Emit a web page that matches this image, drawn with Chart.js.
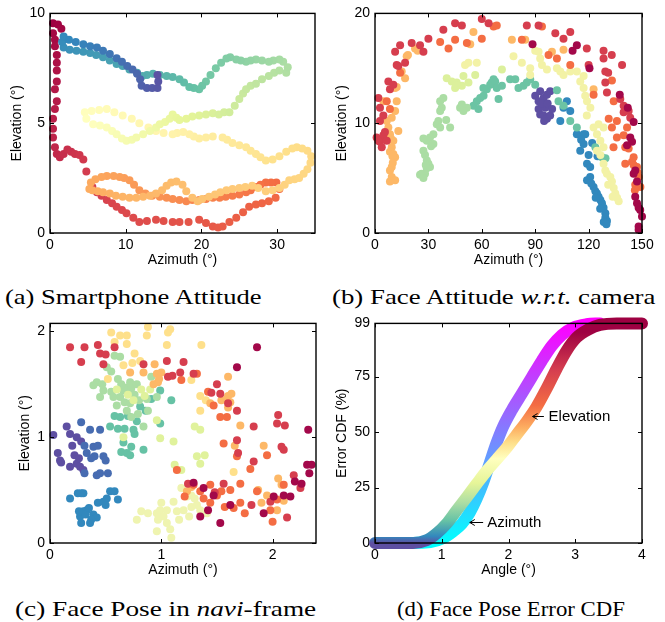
<!DOCTYPE html>
<html>
<head>
<meta charset="utf-8">
<script src="https://cdn.jsdelivr.net/npm/chart.js@4"></script>
<style>
body { margin: 0; background: #fff; width: 665px; height: 622px; position: relative; overflow: hidden; }
.pane { position: absolute; }
.cap { position: absolute; font-family: 'Liberation Serif', 'Times New Roman', serif; font-size: 22px; line-height: 24px; white-space: nowrap; transform-origin: 0 50%; color: #000; }
</style>
</head>
<body>
<div class="pane" style="left:0;top:0"><canvas id="chartA" width="330" height="270"></canvas></div>
<div class="pane" style="left:330px;top:0"><canvas id="chartB" width="335" height="270"></canvas></div>
<div class="pane" style="left:0;top:310px"><canvas id="chartC" width="330" height="270"></canvas></div>
<div class="pane" style="left:330px;top:310px"><canvas id="chartD" width="335" height="270"></canvas></div>

<div class="cap" data-w="257" style="left:5px;top:285px">(a) Smartphone Attitude</div>
<div class="cap" data-w="323" style="left:332px;top:285px">(b) Face Attitude <i>w.r.t.</i> camera</div>
<div class="cap" data-w="301" style="left:15px;top:597px">(c) Face Pose in <i>navi</i>-frame</div>
<div class="cap" data-w="228" style="left:397px;top:597px">(d) Face Pose Error CDF</div>

<script>
// ---------- (a) smartphone attitude: one track, split by colour band ----------
const trackDarkRed = [[0.4,9.55],[1.05,9.5],[1.5,9.3],[0.4,9.1],[0.65,8.8],[0.65,8.5],[0.9,8.1],[0.9,7.75],[0.9,7.4],[0.9,6.9],[0.65,6.55],[0.9,6.0],[0.65,5.65],[0.4,5.2],[0.4,4.75],[0.4,4.35],[0.65,3.9],[0.9,3.6],[1.3,3.45],[1.8,3.6],[2.3,3.8],[2.8,3.7],[3.3,3.6],[3.9,3.55],[4.4,3.35],[4.8,2.8]];
const trackRed = [[5.6,2.1],[6.2,1.85],[6.8,1.7],[7.5,1.5],[8.2,1.35],[8.8,1.2],[9.5,1.05],[10.1,0.9],[11,0.7],[11.8,0.5],[12.8,0.55],[14,0.6],[15,0.55],[16.2,0.5],[17.1,0.5],[18.3,0.5],[19.7,0.6],[20.6,0.45],[21.5,0.3],[22.2,0.25],[22.8,0.3],[23.7,0.5],[24.6,0.7],[25.5,0.95],[26.3,1.2],[27.2,1.3],[28,1.35],[28.9,1.45],[29.8,1.6],[30.3,2.0],[29.9,2.3]];
const trackOrange = [[29.2,2.3],[28.5,2.3],[27.8,2.2],[27.2,2.1],[26.5,1.95],[25.9,1.85],[25,1.75],[24.1,1.7],[23.2,1.65],[22.4,1.6],[21.5,1.6],[20.6,1.55],[19.7,1.5],[18.8,1.5],[18,1.45],[17.1,1.5],[16.2,1.55],[15.4,1.6],[14.5,1.65],[13.5,1.7],[12.6,1.8],[11.8,1.95],[11.1,2.2],[10.5,2.4],[9.8,2.5],[9.2,2.55],[8.4,2.6],[7.5,2.6],[6.8,2.55],[6,2.45],[5.4,2.3],[5.2,2.0]];
const trackLightOrange = [[5.6,1.95],[6.3,1.9],[7,1.85],[7.9,1.8],[8.7,1.7],[9.6,1.65],[10.5,1.6],[11.4,1.6],[12.3,1.65],[13.2,1.7],[14,1.8],[14.8,1.95],[15.4,2.15],[16,2.3],[16.7,2.35],[17.5,2.2],[18,1.9],[18.8,1.6],[19.5,1.45],[20.1,1.55],[21,1.65],[21.8,1.75],[22.5,1.85],[23.3,1.95],[24.1,2.0],[25,2.05],[25.8,2.1],[26.7,2.15],[27.5,2.05],[28.5,1.9],[29.4,1.95],[30.3,2.05],[31,2.2],[31.6,2.4],[32.3,2.45],[32.9,2.5],[33.5,2.7],[34,2.9],[34.4,3.2],[34.5,3.5],[34,3.75],[33.3,3.85],[32.6,3.9],[32,3.85]];
const trackYellow = [[31.2,3.7],[30.3,3.5],[29.4,3.35],[28.5,3.3],[27.8,3.45],[27.2,3.6],[26.5,3.75],[25.9,3.9],[25,4.0],[24.1,4.1],[23.4,4.25],[22.8,4.35],[21.5,4.4],[20.6,4.35],[19.7,4.3],[19,4.4],[18.4,4.5],[17.6,4.6],[16.8,4.55],[16.2,4.5],[15,4.55],[14,4.65],[13,4.8],[11.8,5.0],[10.8,5.2],[9.6,5.35],[8.5,5.5],[7.5,5.65],[6.5,5.6],[5.5,5.55],[4.6,5.5]];
const trackPale = [[4.8,5.2],[5.7,4.95],[6.6,4.9],[7.5,4.8],[8.2,4.65],[8.8,4.5],[9.5,4.3],[10.1,4.2],[10.8,4.25],[11.4,4.35],[12.3,4.5],[13.2,4.65],[14,4.8],[14.5,4.95],[15.2,5.05],[15.8,5.2],[16.2,5.4],[16.7,5.25],[17.1,5.15]];
const trackLightGreen = [[18,5.2],[18.8,5.3],[19.7,5.35],[20.6,5.4],[21.5,5.45],[22.3,5.4],[23,5.5],[23.7,5.5],[24.4,5.8],[25,6.1],[25.5,6.35],[25.9,6.55],[26.5,6.7],[27.2,6.8],[28,7.0],[28.9,7.15],[29.6,7.3],[30.3,7.4],[31.2,7.3],[31.4,7.55]];
const trackGreen = [[30.8,7.8],[30.3,7.9],[29.5,7.85],[28.9,7.8],[28,7.85],[27.2,7.9],[26.5,7.85],[25.9,7.8],[25.2,7.85],[24.6,7.9],[23.8,8.0],[23.3,7.95],[22.6,7.75],[21.9,7.5],[21.2,7.2],[20.6,6.9],[20.1,6.7],[19.7,6.55]];
const trackTeal = [[19,6.6],[18.4,6.65],[17.7,6.85],[17.1,7.0],[16.2,7.1],[15.4,7.15],[14.5,7.2],[13.6,7.25],[12.8,7.2],[12.2,7.15],[11.5,7.3],[10.5,7.45],[9.6,7.6],[8.8,7.7],[7.9,7.85],[7,8.0],[6.1,8.1],[5.3,8.2],[4.4,8.25],[3.5,8.3],[2.6,8.35],[1.8,8.45],[1.6,8.7],[1.8,8.95]];
const trackBlue = [[2.5,8.8],[3.4,8.7],[4.4,8.6],[5.3,8.5],[6.2,8.45],[7,8.3],[7.9,8.15],[8.8,7.96],[9.5,7.8],[10.2,7.6],[10.9,7.45],[11.5,7.25],[11.9,7.0],[12.1,6.7],[12.8,6.6],[13.5,6.6],[14.2,6.6],[14.3,6.9],[14.2,7.2]];

// ---------- (b) face attitude w.r.t. camera ----------
const faceDarkRed = [[145.3,10.1],[143.4,8.7],[144.4,8.3],[141.6,8.0],[146.2,5.7],[145.3,5.4],[147.2,4.7],[146.2,3.3],[147.2,2.7],[148.1,2.3],[149,2.1],[150,1.5],[148.1,0.6],[148.1,0.3],[88.5,17.2],[111,16.6],[113.4,17.1],[120.5,15.0],[137.5,12.6],[142,11.4]];
const faceRed = [[1.9,12.3],[2.8,11.4],[4.7,10.7],[2.8,10.2],[0.9,8.7],[2.8,8.3],[4.7,8.9],[6.6,8.4],[3.8,7.8],[1.9,8.4],[5.6,9.2],[7.5,13.8],[8.4,13.1],[10.3,13.5],[11.3,16.5],[12.2,15.3],[13.1,15.2],[14.1,17.1],[16.9,15.5],[20.6,17.3],[27.2,16.5],[25.3,17.1],[30,17.7],[38.4,18.5],[45,19.1],[48.8,18.9],[60,19.5],[63.8,19.1],[85.3,18.9],[91.9,18.9],[101.3,18.2],[109.7,18.3],[105.9,17.7],[119,16.8],[128.4,16.6],[133,16.2],[128.4,15.9],[129.4,14.7],[131,14.6],[129.4,13.7],[130.3,12.8],[138.8,15.3],[137.8,12.2],[139.7,11.6],[139.7,11.0],[143.4,10.5],[142.5,11.1],[120,15.3]];
const faceOrange = [[133.1,13.9],[134.1,12.0],[131.3,10.4],[133.1,9.6],[134,7.8],[135.9,8.7],[135.9,10.2],[141.6,9.6],[139.7,8.9],[142.5,7.7],[140.6,7.8],[140.6,6.3],[144.4,6.5],[145.3,6.2],[147.2,6.0],[148.1,5.1],[147.2,4.5],[146.2,4.4],[149.1,4.2],[145.3,6.9],[122.8,12.6],[36.6,17.4],[41.3,16.8],[45,17.6],[51.6,17.3],[60,17.7],[66.6,18.8],[68.4,18.9],[82.5,17.6],[93.8,18.8],[97.5,16.2],[102.2,15.9],[109.7,15.3],[6.6,12.0],[8.4,11.3],[14.1,14.6],[147.5,5.5],[146,3.9]];
const faceLightOrange = [[12.2,13.3],[11.3,13.2],[12.2,12.0],[11.3,11.1],[9.4,10.5],[7.5,9.6],[8.4,9.0],[10.3,8.4],[9.4,7.8],[8.4,7.4],[10.3,7.2],[11.3,6.9],[9.4,6.0],[8.4,5.7],[9.4,5.1],[8.4,4.7],[11.3,4.8],[4.7,12.0],[4.7,10.5],[13.1,9.3],[16.9,14.1],[17.8,16.1],[22.5,16.8],[55.3,18.3],[76.9,17.6],[84.4,17.6],[99.4,16.5],[105.9,16.7],[122.8,13.1],[6.6,10.2],[9.8,7.0],[10,6.4],[9,8.6],[15,14.7],[18.5,16.2],[24,16.6],[53.5,17.2]];
const facePale = [[77.8,16.1],[82.5,15.5],[87.2,15.0],[90,16.6],[91.9,16.5],[92.8,15.9],[50.6,15.3],[52.5,15.5],[57.2,15.5],[87.2,14.4],[93.8,15.3],[96.6,14.9],[102.2,15.0],[104.1,14.7],[105.9,14.4],[109.7,14.7],[113.4,14.7],[117.2,14.3],[115.3,13.8],[117.2,13.2],[118.1,12.5],[119.1,12.0],[121,11.4],[119,10.7],[122.8,9.6],[124.7,9.0],[126.6,8.4],[128.4,7.8],[124.7,7.5],[126.6,7.1],[128.4,6.3],[129.4,5.7],[130.3,5.4],[132.2,5.1],[133.1,4.7],[134.1,4.1],[135,3.6],[136,3.2],[136.9,2.9],[125.6,9.9],[128.4,9.6],[133.5,3.3],[131,4.4]];
const faceLightGreen = [[40.3,14.1],[43.1,13.8],[45.9,13.7],[48.8,13.4],[52.5,13.7],[56.3,14.4],[49.7,14.3],[45,13.2],[71.3,14.9],[45.9,13.4]];
const faceGreen = [[36.6,12.0],[38.4,12.3],[37.5,11.4],[36.6,11.1],[35.6,10.2],[34.7,9.9],[36.6,9.6],[32.8,9.0],[30.9,8.7],[29.1,8.4],[27.2,8.6],[27.2,7.5],[28.1,7.1],[29.1,6.6],[30,6.3],[30.9,6.0],[29.1,5.9],[28.1,5.4],[26.2,5.4],[25.3,5.3],[27.2,5.0],[32.8,8.1],[42.2,9.6],[47.8,11.4],[48.8,11.7],[51.6,11.4],[49.7,11.1],[28.5,6.2],[31.5,7.9],[40,10.3]];
const faceTeal = [[55.3,11.6],[57.2,12.0],[59.1,12.3],[61,12.5],[58.1,11.3],[62.8,13.1],[64.7,13.5],[65.6,13.7],[67.5,13.8],[68.4,13.2],[71.3,13.4],[69.4,12.2],[66.6,14.0],[60.9,13.2],[75.9,14.0],[78.8,14.0],[80.6,13.2],[83.4,13.4],[85.3,13.7],[87.2,14.0],[90,13.5],[103.1,12.0],[105.9,11.6],[102.2,13.0],[109.7,10.2],[113.4,9.6],[123.8,7.8],[127.5,6.9],[129.5,6.8]];
const faceBlue = [[113.4,9.0],[117.2,9.0],[118.1,9.0],[117.2,8.1],[120,7.1],[119.1,6.3],[120.9,6.0],[120.9,5.1],[119.1,4.8],[122.8,4.2],[123.8,3.8],[124.7,3.6],[125.6,3.3],[126.6,3.0],[127.5,2.7],[128.4,2.3],[129.4,1.8],[129.4,1.4],[130.3,1.1],[115.3,7.5],[121.5,4.5],[124,3.2],[126.5,2.2],[128.5,1.0],[130,0.8],[122,8.2],[125,7.0],[115.8,8.5],[105.9,11.4],[107.8,12.0],[109.7,11.1],[104.1,10.2]];
const facePurple = [[90,12.5],[91.9,12.0],[92.8,12.9],[94.7,12.3],[96.6,12.6],[98.4,12.9],[91.9,11.3],[92.8,10.8],[94.7,10.7],[96.6,10.4],[95.6,11.4],[98.4,10.7],[93.5,11.8],[97,11.8],[95,10.2],[99.5,11.3]];

// ---------- (c) face pose in navi-frame ----------
const poseDarkRed = [[1.86,1.85],[1.68,1.66],[1.35,0.25],[1.42,0.31],[1.38,0.52],[1.53,0.19],[1.62,0.36],[2.01,0.44],[2.1,0.45],[2.16,0.44],[2.2,0.58],[2.26,0.56],[2.31,0.74],[2.35,0.74],[2.33,0.66],[2.32,1.07],[1.29,0.57],[1.47,0.45],[1.92,0.28]];
const poseRed = [[0.18,1.85],[0.31,1.85],[0.28,1.71],[0.43,1.87],[0.45,1.79],[0.48,1.69],[0.58,1.85],[0.84,1.69],[1.05,1.72],[1.06,1.57],[1.17,1.61],[1.2,1.71],[1.29,1.6],[1.5,1.5],[1.53,1.41],[1.6,1.32],[1.68,1.25],[1.68,0.97],[1.69,0.85],[1.83,0.77],[1.83,1.1],[2.04,1.13],[2.05,1.21],[2.11,1.11],[2.08,0.91],[2.19,0.64],[2.25,0.52],[1.24,0.56],[1.56,0.56],[1.81,0.36],[1.98,0.39],[2.13,0.24],[0.5,1.78],[1.1,1.58],[1.45,1.42],[2.1,0.88],[1.48,0.48]];
const poseOrange = [[1.18,1.54],[1.32,1.6],[1.42,1.43],[1.53,1.19],[1.59,1.19],[1.56,0.94],[1.68,0.82],[1.71,0.56],[1.71,0.38],[1.75,0.28],[1.86,0.49],[1.98,0.31],[2.04,0.41],[1.95,0.83],[2.1,0.55],[1.21,0.44],[1.29,0.55],[1.35,0.49],[1.44,0.55],[1.5,0.45],[1.54,0.49],[1.44,0.38],[1.57,0.34],[1.65,0.33],[1.14,0.69],[1.47,1.3],[1.8,0.7],[1.62,0.5],[1.38,0.42],[2.0,0.2]];
const poseLightOrange = [[0.84,1.61],[0.94,1.69],[0.96,1.6],[0.97,1.52],[1.0,1.61],[0.93,1.5],[0.72,1.61],[1.44,1.32],[1.54,1.35],[1.59,1.36],[1.6,1.39],[1.62,1.33],[1.63,1.41],[1.6,1.57],[1.71,1.11],[1.66,0.92],[1.92,0.92],[1.87,0.5],[2.05,0.61],[2.04,0.31],[1.23,0.49],[1.27,0.53],[2.08,0.55],[1.95,0.45],[1.6,1.28],[0.98,1.55],[1.9,0.38],[2.1,0.4]];
const poseYellow = [[0.55,1.99],[0.63,1.96],[0.69,1.96],[0.58,1.9],[0.69,1.88],[0.76,1.79],[0.87,1.96],[0.88,2.04],[1.08,2.02],[1.06,1.99],[0.81,1.72],[0.66,1.68],[1.05,1.87],[1.36,1.87],[1.27,1.54],[1.35,1.39],[1.35,1.25],[1.65,0.67],[0.74,1.7],[1.4,1.35],[0.52,1.55]];
const posePale = [[0.78,0.22],[0.82,0.3],[0.96,0.28],[0.97,0.22],[0.99,0.31],[1.05,0.31],[1.08,0.13],[1.05,0.19],[1.09,0.05],[0.96,0.11],[1.11,0.39],[1.18,0.52],[1.2,0.31],[1.23,0.44],[1.27,0.34],[1.32,0.36],[1.35,0.31],[1.27,0.45],[1.41,0.28],[0.88,0.28],[1.02,0.25],[1.14,0.3],[1.3,0.42],[1.0,0.38],[1.25,0.25],[1.16,0.22]];
const poseLightGreen = [[0.75,1.35],[0.85,1.39],[0.96,1.16],[0.99,0.99],[1.11,0.96],[1.12,0.74],[1.18,0.69],[1.32,0.82],[1.35,0.75],[1.39,0.83],[1.3,1.1],[1.35,1.07],[0.66,1.0],[0.6,1.45],[0.7,1.4],[0.82,1.45],[0.9,1.45]];
const poseGreen = [[0.42,1.52],[0.39,1.49],[0.48,1.44],[0.45,1.38],[0.55,1.43],[0.57,1.38],[0.58,1.77],[0.63,1.76],[0.51,1.66],[0.61,1.55],[0.66,1.44],[0.69,1.47],[0.72,1.52],[0.73,1.46],[0.78,1.5],[0.63,1.38],[0.67,1.33],[0.72,1.32],[0.69,1.25],[0.73,1.19],[0.79,1.22],[0.84,1.1],[0.88,1.25],[0.96,1.38],[0.87,1.36],[0.91,1.57],[0.47,1.5],[0.6,1.3],[0.76,1.4],[0.55,1.62],[0.64,1.5],[0.8,1.35]];
const poseTeal = [[0.54,1.1],[0.61,1.08],[0.63,1.19],[0.67,1.08],[0.64,0.86],[0.69,0.85],[0.72,0.83],[0.73,0.91],[0.75,1.07],[0.76,1.03],[0.81,1.29],[0.84,0.88],[0.99,1.13],[1.09,1.35],[0.99,1.44],[0.91,1.36],[0.7,1.2],[0.78,1.15],[0.66,0.95],[0.58,1.2],[0.86,1.25]];
const poseBlue = [[0.18,0.42],[0.25,0.47],[0.3,0.47],[0.27,0.25],[0.3,0.3],[0.33,0.31],[0.39,0.27],[0.42,0.24],[0.37,0.22],[0.28,0.19],[0.36,0.19],[0.43,0.38],[0.48,0.39],[0.51,0.42],[0.54,0.49],[0.58,0.49],[0.61,0.41],[0.32,0.27],[0.35,0.33],[0.26,0.3],[0.28,0.47],[0.5,0.36]];
const poseIndigo = [[0.31,0.92],[0.36,1.07],[0.28,1.14],[0.31,0.66],[0.39,0.91],[0.4,0.82],[0.45,1.07],[0.48,0.82],[0.42,0.64],[0.45,0.66],[0.52,0.66],[0.33,0.85],[0.37,0.8],[0.43,0.92],[0.5,0.78]];
const posePurple = [[0.03,1.02],[0.07,0.85],[0.09,0.78],[0.15,1.1],[0.18,1.03],[0.2,0.92],[0.22,0.83],[0.18,0.72],[0.24,0.75],[0.27,0.72],[0.3,0.69],[0.28,0.96],[0.24,1.0],[0.1,0.76],[0.26,0.8]];

// ---------- (d) error CDF ----------
const elevAngle = [0, 0.57, 0.77, 0.92, 1.07, 1.22, 1.37, 1.52, 1.67, 1.82, 1.97, 2.12, 2.27, 2.42, 2.57, 2.72, 2.87, 3.02, 3.2, 3.37, 3.62, 4];
const elevCdf = [0, 0, 1.2, 4.2, 8.6, 14.6, 20.5, 26.5, 32.4, 37.6, 42.8, 48.8, 54.7, 61.4, 69.6, 78.5, 86.7, 92.6, 96.3, 98.3, 99, 99];
const azimAngle = [0.57, 0.83, 1.02, 1.17, 1.3, 1.42, 1.52, 1.62, 1.72, 1.82, 1.92, 2.05, 2.2, 2.35, 2.5, 2.65, 2.8, 2.97, 3.17, 3.37];
const azimCdf = [0, 0.4, 2.2, 5.2, 8.6, 13.8, 19.8, 27.2, 36.1, 45, 52.5, 59.9, 67.3, 74.8, 82.2, 88.9, 93.8, 97.1, 98.6, 99];

// tick labels
const ticksAX = [0, 10, 20, 30], ticksAY = [0, 5, 10];
const ticksBX = [0, 30, 60, 90, 120, 150], ticksBY = [0, 10, 20];
const ticksCX = [0, 1, 2], ticksCY = [0, 1, 2];
const ticksDX = [0, 1, 2, 3, 4], ticksDY = [0, 25, 50, 75, 99];

// ---------- colours ----------
const SPECTRAL = ['#9e0142','#d53e4f','#f46d43','#fdae61','#fee08b','#ffffbf','#e6f598','#abdda4','#66c2a5','#3288bd','#5e4fa2'];
function rgbOf(h) { return [1, 3, 5].map(i => parseInt(h.slice(i, i + 2), 16)); }
function spectral(t) {
  const p = Math.max(0, Math.min(1, t)) * 10;
  const i = Math.min(9, Math.floor(p)), f = p - i;
  const a = rgbOf(SPECTRAL[i]), b = rgbOf(SPECTRAL[i + 1]);
  return 'rgb(' + a.map((v, k) => Math.round(v + (b[k] - v) * f)).join(',') + ')';
}

const SANS = "'Liberation Sans', Arial, Helvetica, sans-serif";
const tickFont = { family: SANS, size: 14 };

// MATLAB style box with inward ticks on all four sides
const frame = {
  id: 'frame',
  afterDraw(chart) {
    const { ctx, chartArea: a, scales: { x, y } } = chart;
    ctx.save();
    ctx.strokeStyle = '#000';
    ctx.lineWidth = 1.4;
    ctx.strokeRect(a.left, a.top, a.right - a.left, a.bottom - a.top);
    ctx.lineWidth = 1;
    ctx.beginPath();
    x.ticks.forEach(t => {
      const px = Math.round(x.getPixelForValue(t.value)) + 0.5;
      ctx.moveTo(px, a.bottom); ctx.lineTo(px, a.bottom - 4);
      ctx.moveTo(px, a.top); ctx.lineTo(px, a.top + 4);
    });
    y.ticks.forEach(t => {
      const py = Math.round(y.getPixelForValue(t.value)) + 0.5;
      ctx.moveTo(a.left, py); ctx.lineTo(a.left + 4, py);
      ctx.moveTo(a.right, py); ctx.lineTo(a.right - 4, py);
    });
    ctx.stroke();
    ctx.restore();
  }
};

// arrows with text for panel (d)
const pointers = {
  id: 'pointers',
  afterDatasetsDraw(chart, args, opts) {
    if (!opts.items) return;
    const { ctx, scales: { x, y } } = chart;
    ctx.save();
    ctx.strokeStyle = '#000';
    ctx.fillStyle = '#000';
    ctx.lineWidth = 1;
    ctx.font = '15px ' + SANS;
    ctx.textBaseline = 'middle';
    opts.items.forEach(n => {
      const py = Math.round(y.getPixelForValue(n.y)) + 0.5;
      const tip = x.getPixelForValue(n.tip), tail = x.getPixelForValue(n.tail);
      ctx.beginPath();
      ctx.moveTo(tail, py); ctx.lineTo(tip, py);
      ctx.moveTo(tip + 5, py - 3); ctx.lineTo(tip, py); ctx.lineTo(tip + 5, py + 3);
      ctx.stroke();
      ctx.fillText(n.label, x.getPixelForValue(n.text), py);
    });
    ctx.restore();
  }
};

function axis(tickList, max, title, fit, titlePad, horizontal) {
  return {
    type: 'linear', min: 0, max: max,
    grid: { display: false, drawTicks: false },
    border: { display: false },
    afterBuildTicks: s => { s.ticks = tickList.map(v => ({ value: v })); },
    afterFit: s => { if (horizontal) s.height = fit; else s.width = fit; },
    ticks: { font: tickFont, color: '#000', padding: horizontal ? 4 : 5, maxRotation: 0, autoSkip: false },
    title: { display: true, text: title, font: tickFont, color: '#000',
             padding: horizontal ? { top: 0, bottom: 1 } : { top: titlePad, bottom: 0 } }
  };
}

function options(p) {
  return {
    responsive: false,
    animation: false,
    events: [],
    layout: { padding: { top: p.top, right: p.right, left: 0, bottom: 0 } },
    plugins: { legend: { display: false }, tooltip: { enabled: false }, pointers: { items: p.notes } },
    scales: {
      x: axis(p.xTicks, p.xMax, p.xTitle, 37, 0, true),
      y: axis(p.yTicks, p.yMax, p.yTitle, p.yWidth, p.yPad, false)
    }
  };
}

function dots(arr, color) {
  return {
    data: arr.map(([x, y]) => ({ x, y })),
    backgroundColor: color, pointRadius: 4, pointHoverRadius: 4,
    pointBorderWidth: 0, borderWidth: 0, clip: false
  };
}

// (a)
const bands = [trackDarkRed, trackRed, trackOrange, trackLightOrange, trackYellow, trackPale, trackLightGreen, trackGreen, trackTeal, trackBlue];
const trackPts = [], trackCols = [];
bands.forEach((seg, k) => seg.forEach(([x, y], j) => {
  trackPts.push({ x, y });
  trackCols.push(spectral((k + j / seg.length) / 10));
}));

new Chart(document.getElementById('chartA'), {
  type: 'scatter',
  data: { datasets: [{ data: trackPts, backgroundColor: trackCols, pointRadius: 4, pointHoverRadius: 4, pointBorderWidth: 0, clip: false }] },
  options: options({ top: 12, right: 15, yWidth: 50, yPad: 8.6, xTicks: ticksAX, xMax: 35, yTicks: ticksAY, yMax: 10, xTitle: 'Azimuth (°)', yTitle: 'Elevation (°)' }),
  plugins: [frame]
});

// (b)
new Chart(document.getElementById('chartB'), {
  type: 'scatter',
  data: { datasets: [
    dots(faceDarkRed, '#a3084a'), dots(faceRed, '#d63e4e'), dots(faceOrange, '#f46d43'),
    dots(faceLightOrange, '#fdb867'), dots(facePale, '#f3f2a6'), dots(faceLightGreen, '#dcf09c'),
    dots(faceGreen, '#abdda4'), dots(faceTeal, '#6cc4a4'), dots(faceBlue, '#3288bd'), dots(facePurple, '#5e4fa2')
  ] },
  options: options({ top: 12, right: 23, yWidth: 45, yPad: 4, xTicks: ticksBX, xMax: 150, yTicks: ticksBY, yMax: 20, xTitle: 'Azimuth (°)', yTitle: 'Elevation (°)' }),
  plugins: [frame]
});

// (c)
new Chart(document.getElementById('chartC'), {
  type: 'scatter',
  data: { datasets: [
    dots(poseDarkRed, '#a3084a'), dots(poseRed, '#d63e4e'), dots(poseOrange, '#f46d43'),
    dots(poseLightOrange, '#fdb867'), dots(poseYellow, '#fee08b'), dots(posePale, '#eff4b0'),
    dots(poseLightGreen, '#e0f29c'), dots(poseGreen, '#abdda4'), dots(poseTeal, '#66c2a5'),
    dots(poseBlue, '#3288bd'), dots(poseIndigo, '#476cb1'), dots(posePurple, '#5e4fa2')
  ] },
  options: options({ top: 13, right: 14, yWidth: 50, yPad: 17, xTicks: ticksCX, xMax: 2.39, yTicks: ticksCY, yMax: 2.075, xTitle: 'Azimuth (°)', yTitle: 'Elevation (°)' }),
  plugins: [frame]
});

// (d) colour along each band follows the CDF level (stop = [level, colour])
const elevStops = [[0,'#5e4fa2'],[3,'#3288bd'],[10,'#66c2a5'],[18,'#abdda4'],[27,'#e6f598'],[38,'#ffffbf'],[45,'#fee08b'],[52,'#fdae61'],[62,'#f46d43'],[78,'#d53e4f'],[95,'#9e0142']];
const azimStops = [[0,'#00ffff'],[99,'#ff00ff']];
function cdfGradient(chart, stops) {
  const { chartArea, scales } = chart;
  if (!chartArea) return stops[0][1];
  const g = chart.ctx.createLinearGradient(0, scales.y.getPixelForValue(0), 0, scales.y.getPixelForValue(99));
  stops.forEach(([v, c]) => g.addColorStop(Math.min(1, v / 99), c));
  return g;
}
function band(xs, ys, stops) {
  return {
    data: xs.map((v, i) => ({ x: v, y: ys[i] })),
    borderColor: c => cdfGradient(c.chart, stops),
    borderWidth: 12, pointRadius: 0, pointHoverRadius: 0,
    cubicInterpolationMode: 'monotone', borderCapStyle: 'round', borderJoinStyle: 'round',
    fill: false, clip: false
  };
}
new Chart(document.getElementById('chartD'), {
  type: 'line',
  data: { datasets: [
    band(elevAngle, elevCdf, elevStops),
    band(azimAngle, azimCdf, azimStops)
  ] },
  options: options({
    top: 13, right: 23, yWidth: 45, yPad: 4, xTicks: ticksDX, xMax: 4, yTicks: ticksDY, yMax: 99,
    xTitle: 'Angle (°)', yTitle: 'Error CDF (%)',
    notes: [
      { label: 'Elevation', y: 57.2, tip: 2.36, tail: 2.53, text: 2.6 },
      { label: 'Azimuth', y: 9.4, tip: 1.42, tail: 1.62, text: 1.68 }
    ]
  }),
  plugins: [frame, pointers]
});

// stretch captions to the widths they have in the figure
document.querySelectorAll('.cap').forEach(el => {
  el.style.transform = 'scaleX(' + (+el.dataset.w / el.offsetWidth) + ')';
});
</script>
</body>
</html>
